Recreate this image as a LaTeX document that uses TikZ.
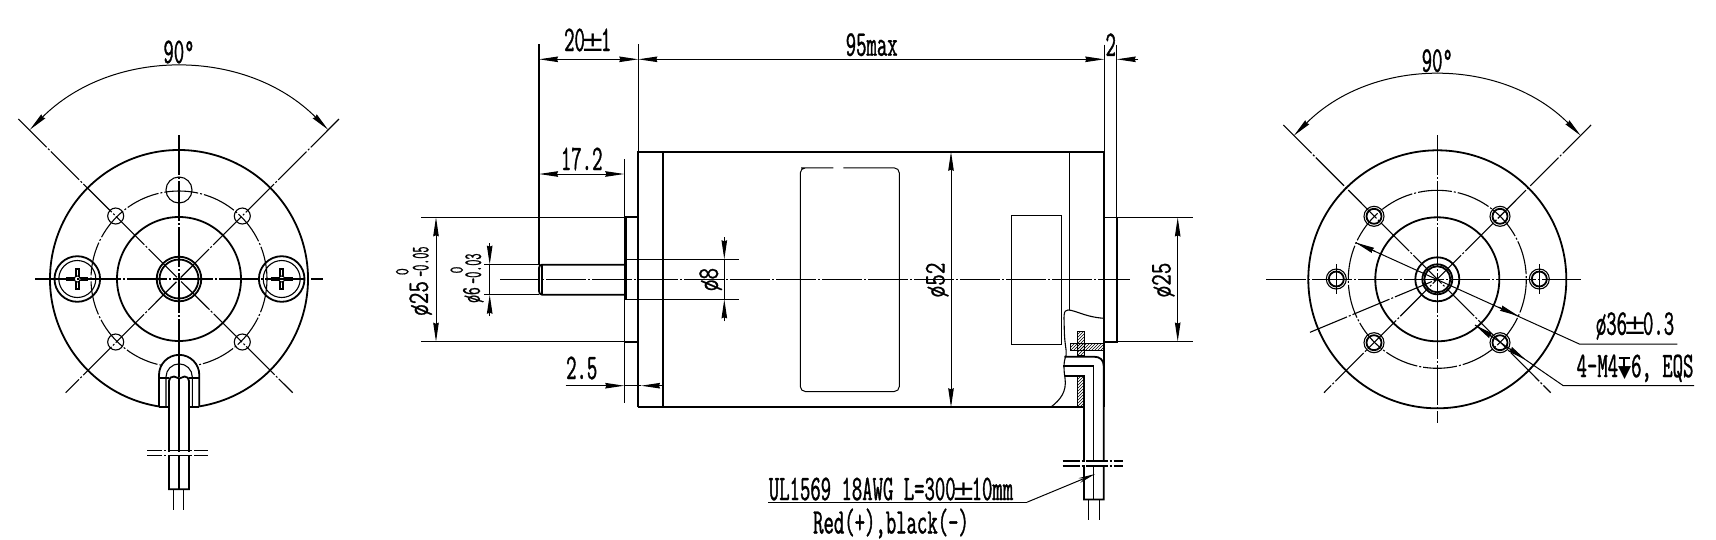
\documentclass[tikz,border=0pt]{standalone}
\usepackage{fontspec}
\usetikzlibrary{arrows.meta,patterns,calc}
\newfontfamily\dimf{Latin Modern Mono}[FakeStretch=0.56,FakeBold=1]
\newfontfamily\dimn{Latin Modern Mono}[FakeStretch=0.47,FakeBold=0.8]
\newfontfamily\dimw{Latin Modern Mono}[FakeStretch=0.75,FakeBold=0.8]
\newfontfamily\dimz{Latin Modern Mono}[FakeStretch=0.67,FakeBold=0.6]
\newfontfamily\symf{DejaVu Sans}
\newcommand{\plmn}{\makebox[16pt]{\symf\fontsize{28}{28}\selectfont ±}}
\newcommand{\depthsym}{\makebox[13pt]{\rlap{\hspace{0.5pt}\rule[18pt]{11pt}{1.6pt}}\rlap{\hspace{5.2pt}\rule[8pt]{1.6pt}{11pt}}{\symf\fontsize{17}{17}\selectfont ▼}}}
\newcommand{\crossscrew}[2]{%
  \draw[line width=4.6pt] (#1-11,#2)--(#1+11,#2) (#1,#2-11)--(#1,#2+11);
  \draw[white,line width=0.9pt] (#1-9,#2)--(#1+9,#2) (#1,#2-9)--(#1,#2+9);
  \draw[line width=1pt,fill=white] (#1,#2) circle[radius=3];
}
\tikzset{
  thickl/.style={line width=1.8pt},
  thinl/.style={line width=1.1pt},
  cl/.style={line width=1.1pt,dash pattern=on 40pt off 2pt on 2pt off 2pt},
  dc/.style={line width=1.1pt,dash pattern=on 34pt off 2pt on 2pt off 2pt},
  dimline/.style={line width=1pt,>={Stealth[length=19pt,width=5.5pt,inset=1pt]}},
  lab/.style={inner sep=0pt,font=\dimf\fontsize{36}{36}\selectfont},
  labw/.style={inner sep=0pt,font=\dimw\fontsize{30}{30}\selectfont},
  labm/.style={inner sep=0pt,font=\dimf\fontsize{27}{27}\selectfont},
  labs/.style={inner sep=0pt,font=\dimn\fontsize{25}{25}\selectfont},
  labz/.style={inner sep=0pt,font=\dimz\fontsize{20}{20}\selectfont},
  hatchfill/.style={pattern=north east lines,draw=black,line width=0.8pt}
}
\begin{document}
\begin{tikzpicture}[x=1pt,y=-1pt]
\useasboundingbox (0,0) rectangle (1716,539);
\fill[white] (0,0) rectangle (1716,539);
\coordinate (LC) at (179,279);
\coordinate (RC) at (1437.3,279.3);
%% ---------- left view ----------
\draw[thickl] ($(LC)+(98.9:129)$) arc (98.9:441.1:129);
\draw[dc] (LC) circle[radius=88];
\draw[thickl] (LC) circle[radius=62];
\draw[thickl] (LC) circle[radius=22.3];
\draw[thickl] (LC) circle[radius=19.5];
\draw[thinl] (179,190) circle[radius=13];
\foreach \a/\b in {115.7/216,242.3/216,115.7/342,242.3/342}{\draw[thinl] (\a,\b) circle[radius=8];}
\draw[thickl] (77.3,279) circle[radius=22.8];
\draw[thickl] (281.7,279) circle[radius=22.8];
\draw[thinl] (77.3,279) circle[radius=18.5];
\draw[thinl] (281.7,279) circle[radius=18.5];
\crossscrew{77.3}{279}
\crossscrew{281.7}{279}
\draw[cl] (35,279)--(323,279);
\draw[cl] (179,135)--(179,377);
\draw[cl] (18.3,119)--(292.7,392.7);
\draw[cl] (339,119)--(65.7,392.7);
\draw[dimline,<->] ($(LC)+(-135:211)$) arc (-135:-45:211);
\node[lab] (t90l) at (179,52) {90°};
% slot and wires
\fill[white] (159,407)--(159,375) arc (180:360:20) --(199.3,407)--cycle;
\draw[thickl] (159,406.7)--(159,375) arc (180:360:20.15)--(199.3,406.7);
\draw[cl] (179,355)--(179,377);
\draw[thinl] (166,406.7)--(166,377) arc (180:360:13.15)--(192.3,406.7);
\draw[thickl] (159,378)--(169,378) (189,378)--(199.3,378);
\draw[thickl] (159,406.7)--(169,406.7) (189,406.7)--(199.3,406.7);
\draw[thickl,fill=white] (169,489.3)--(169,381) .. controls (169,378) and (171,376.5) .. (174,376.5)--(179.3,378.5)--(184.5,376.5) .. controls (187,376.5) and (189,378) .. (189,381)--(189,489.3)--cycle;
\draw[thickl] (179.3,378.5)--(179.3,489.3);
\draw[thinl] (173.7,489.3)--(173.7,510) (183.7,489.3)--(183.7,510);
\fill[white] (147,451.5) rectangle (209,455);
\draw[thinl,dash pattern=on 15pt off 2pt on 2pt off 2pt on 20pt off 2pt on 2pt off 2pt] (147.3,450.7)--(208.3,450.7) (147.3,455.7)--(208.3,455.7);
%% ---------- side view ----------
% body
\draw[thickl] (638.3,407.3)--(638.3,151.7)--(1104.3,151.7)--(1104.3,407);
\draw[thickl] (638.3,407.3)--(1084,407.3);
\draw[thickl] (663,151.7)--(663,407.3);
\draw[thinl] (1069.7,151.7)--(1069.7,310);
% ext lines
\draw[thinl] (638.3,44)--(638.3,151.7);
\draw[thinl] (539,44)--(539,264.7);
\draw[thinl] (1104.3,44.7)--(1104.3,151.7);
\draw[thinl] (1116.7,44.7)--(1116.7,217.4);
\draw[thinl] (624.3,159)--(624.3,402.7);
% front boss
\draw[thickl] (624.8,217.3)--(638.3,217.3);
\draw[thickl] (624.8,341.7)--(638.3,341.7);
\draw[line width=2.6pt] (625.3,217.3)--(625.3,299.5);
\draw[thinl] (421.3,217.3)--(625,217.3);
\draw[thinl] (421.3,341.7)--(625,341.7);
% shaft
\draw[thickl] (624.3,264.7)--(542,264.7) .. controls (540,264.7) and (539,266) .. (539,268)--(539,291) .. controls (539,293) and (540,294.7) .. (542,294.7)--(624.3,294.7);
\draw[thinl] (542,264.7)--(542,294.7);
\draw[thinl] (484.3,264.7)--(539,264.7) (484.3,294.7)--(539,294.7);
\draw[thinl] (625,259.3)--(739,259.3) (625,299.3)--(739,299.3);
% rear flange
\draw[thickl] (1104.3,217.4)--(1116.7,217.4)--(1116.7,341.6)--(1104.3,341.6);
\draw[thinl] (1116.7,217.4)--(1193.3,217.4) (1116.7,341.6)--(1193.3,341.6);
% label rect etc
\draw[line width=1pt,rounded corners=5pt] (833.3,167.9)--(806,167.9)--(800.3,167.9)--(800.3,391.5)--(899.3,391.5)--(899.3,167.9)--(843.3,167.9);
\draw[line width=0.8pt] (1011,215) rectangle (1061,344.7);
\draw[cl] (500,279.5)--(1130,279.5);
% cut-away
\fill[white] (1066,314) rectangle (1103,406);
\fill[white] (1052,345.5) rectangle (1066,406);
\draw[thinl] (1104,318.3) .. controls (1085,317) and (1075,310) .. (1068,310) .. controls (1063,310) and (1064,316) .. (1064.3,330) .. controls (1064.5,345) and (1067,350) .. (1066,356) .. controls (1063,362) and (1064,372) .. (1065,378) .. controls (1067,392) and (1060,400) .. (1051,407);
\draw[hatchfill] (1070,343.3) rectangle (1104,350.7);
\draw[hatchfill] (1077.3,331.7) rectangle (1084,355);
\draw[hatchfill] (1077.3,376) rectangle (1084,407);
\draw[thickl] (1051,407.3)--(1084,407.3);
\draw[thickl] (1064.3,356.7)--(1094,356.7) .. controls (1100,356.7) and (1103.7,360) .. (1103.7,366)--(1103.7,499.5)--(1084,499.5)--(1084,376)--(1065,376);
\draw[thickl] (1063.3,366)--(1093.5,366)--(1093.5,499.5);
\draw[thinl] (1088.7,499.5)--(1088.7,520) (1099.3,499.5)--(1099.3,520);
\fill[white] (1062,461.8) rectangle (1123,465.2);
\draw[thinl,dash pattern=on 17pt off 2pt on 2pt off 2pt on 22pt off 2pt on 2pt off 2pt] (1062.7,461)--(1122.7,461) (1062.7,466)--(1122.7,466);
% dimensions
\draw[dimline,<->] (539,59.3)--(638.3,59.3);
\draw[dimline,<->] (638.3,59.3)--(1104.3,59.3);
\draw[dimline,->] (1138.3,59.3)--(1116.7,59.3);
\draw[dimline,<->] (539,174)--(624.3,174);
\draw[dimline,->] (565.7,385.7)--(624.3,385.7);
\draw[dimline,->] (662,385.7)--(641,385.7);
\draw[dimline] (641,385.7)--(624.3,385.7);
\draw[dimline,<->] (436,217.3)--(436,341.7);
\draw[dimline,->] (489.7,243.3)--(489.7,264.7);
\draw[dimline,->] (489.7,316)--(489.7,294.7);
\draw[dimline,->] (724.3,237.3)--(724.3,259.3);
\draw[dimline,->] (724.3,321.3)--(724.3,299.3);
\draw[dimline] (489.7,264.7)--(489.7,294.7) (724.3,259.3)--(724.3,299.3);
\draw[dimline,<->] (951,151.7)--(951,407.3);
\draw[dimline,<->] (1177.7,217.4)--(1177.7,341.6);
\node[lab] (t20) at (587.7,40) {20\plmn 1};
\node[lab] (t95) at (871.7,44.7) {95max};
\node[lab] (t2) at (1110.7,44.7) {2};
\node[lab] (t172) at (581.7,159) {17.2};
\node[lab] (t25) at (581.7,368) {2.5};
\node[labw,rotate=90] (td8) at (710.7,279.5) {ø8};
\node[labw,rotate=90] (td52) at (937.3,280) {ø52};
\node[labw,rotate=90] (td25) at (1163.3,280) {ø25};
\node[labw,rotate=90,anchor=west] (t25b) at (420.7,316) {ø25};
\node[labs,rotate=90,anchor=west] (t25c) at (420.7,277) {-0.05};
\node[labz,rotate=90] (t25d) at (402.3,271.7) {0};
\node[labm,rotate=90,anchor=west] (t6b) at (473.3,303) {ø6};
\node[labs,rotate=90,anchor=west] (t6c) at (473.3,284) {-0.03};
\node[labz,rotate=90] (t6d) at (456.7,270) {0};
% wire label
\coordinate (wlA) at (768,502.2);
\coordinate (wlB) at (1027,502.2);
\coordinate (wlT) at (1095,474);
\draw[dimline] (wlA)--(wlB);
\draw[dimline,>={Stealth[length=17pt,width=5pt]},->] (wlB)--(wlT);
\node[lab] (twire) at (891,489) {UL1569 18AWG L=300\plmn 10mm};
\node[lab] (tred) at (891,523.5) {Red(+),black(-)};
%% ---------- right view ----------
\draw[thickl] (RC) circle[radius=129];
\draw[dc] (RC) circle[radius=89];
\draw[thickl] (RC) circle[radius=62];
\draw[thickl] (RC) circle[radius=22];
\draw[thickl] (RC) circle[radius=15];
\draw[thickl] (RC) circle[radius=13];
\foreach \a/\b in {1374/216.3,1500/216.3,1374/342.7,1500/342.7}{
  \draw[thinl] (\a,\b) circle[radius=10];
  \draw[thickl] (\a,\b) circle[radius=7.5];
}
\foreach \a/\b in {1336.3/279,1539.3/279}{
  \draw[thinl] (\a,\b) circle[radius=10];
  \draw[thickl] (\a,\b) circle[radius=7.5];
  \draw[thinl] (\a,\b-15)--(\a,\b+15);
}
\draw[cl] (1266,279.3)--(1581,279.3);
\draw[cl] (1437.3,135)--(1437.3,423.3);
\draw[cl] (1283.3,125)--(1550.7,392.7);
\draw[cl] (1591,125)--(1324,392.7);
\draw[cl] (1310,332.3)--(RC);
\draw[dimline,<->] ($(RC)+(-135:203)$) arc (-135:-45:203);
\node[lab] (t90r) at (1437.3,60.7) {90°};
\coordinate (a36) at (1355.6,242.6);
\coordinate (b36) at (1518.5,316);
\coordinate (c36) at (1579.3,344);
\coordinate (d36) at (1677.3,344);
\draw[dimline] (a36)--(c36)--(d36);
\draw[dimline,->] ($(a36)+(20,9)$)--(a36);
\draw[dimline,->] ($(b36)+(-20,-9)$)--(b36);
\coordinate (a4m) at (1475,325);
\coordinate (c4m) at (1563.3,385.7);
\coordinate (d4m) at (1694,385.7);
\draw[dimline] (a4m)--(c4m)--(d4m);
\draw[dimline,->] ($(a4m)+(17,11.7)$)--(a4m);
\draw[dimline,->] (1510,349)--(1526,360);
\node[lab] (t36) at (1635,326) {ø36\plmn 0.3};
\node[lab] (t4m) at (1635,368.3) {4-M4\depthsym 6, EQS};
\end{tikzpicture}
\end{document}
